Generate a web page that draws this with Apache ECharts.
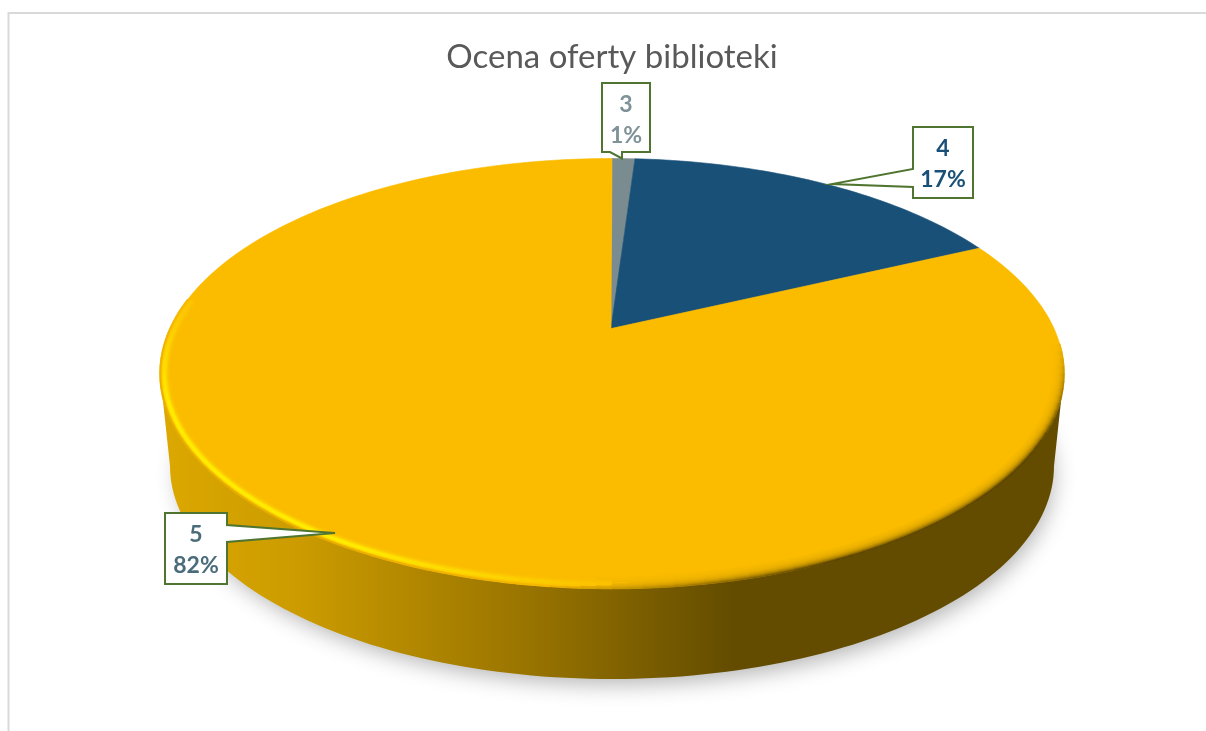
<!DOCTYPE html>
<html><head><meta charset="utf-8">
<style>html,body{margin:0;padding:0;background:#fff}#c{width:1206px;height:731px}</style>
<script src="https://cdn.jsdelivr.net/npm/echarts@6/dist/echarts.min.js"></script>
</head><body><div id="c"></div>
<script>
var chartTitle = 'Ocena oferty biblioteki';
var categories = ['3', '4', '5'];
var values = [1, 17, 82];
var sliceColors = ['#7A8C90', '#195078', '#FBBC00'];
var labelColors = ['#7E9297', '#195078', '#4A6C7A'];

var total = values.reduce(function (s, v) { return s + v; }, 0);
var topE = {cx: 612, cy: 373.5, rx: 452, ry: 215};
var botE = {cx: 612, cy: 466, rx: 442, ry: 213};
var persp = 0.209;

// projected position on the top disc for a clockwise fraction of the circle
function discPoint(frac) {
  var t = frac * 2 * Math.PI, u = Math.sin(t), v = Math.cos(t);
  var d = 1 + persp * v;
  var X = u * Math.sqrt(1 - persp * persp) / d, Y = (v + persp) / d;
  return [topE.cx + topE.rx * X, topE.cy - topE.ry * Y];
}
function ellipseArc(e, a0, a1, n, inset) {
  var pts = [], ins = inset || 0;
  for (var i = 0; i <= n; i++) {
    var a = (a0 + (a1 - a0) * i / n) * Math.PI / 180;
    pts.push([e.cx + (e.rx - ins) * Math.cos(a), e.cy + (e.ry - ins) * Math.sin(a)]);
  }
  return pts;
}
function mix(c1, c2, p) {
  var r = c1.map(function (c, i) { return Math.round(c + (c2[i] - c) * p); });
  return 'rgb(' + r.join(',') + ')';
}
var BASE = [251, 188, 0], DARK = [92, 70, 0], YEL = [255, 238, 0], GOLD = [226, 170, 0];
function clamp(x) { return Math.max(0, Math.min(1, x)); }

function renderBody() {
  var front = ellipseArc(topE, 0, 180, 120);
  var back = ellipseArc(botE, 180, 0, 120);
  var wall = front.concat(back);
  var ground = ellipseArc({cx: botE.cx + 1, cy: botE.cy, rx: botE.rx - 5, ry: botE.ry - 5}, 0, 360, 160);
  return {type: 'group', children: [
    {type: 'polygon', shape: {points: ground}, style: {fill: '#888', shadowBlur: 22, shadowColor: 'rgba(0,0,0,0.3)', shadowOffsetY: 10, shadowOffsetX: 3}},
    {type: 'polygon', shape: {points: wall}, style: {fill: {type: 'linear', x: 160, y: 0, x2: 1064, y2: 0, global: true, colorStops: [
      {offset: 0, color: '#DCA800'}, {offset: 0.155, color: '#CB9B00'}, {offset: 0.40, color: '#9A7500'},
      {offset: 0.635, color: '#634C00'}, {offset: 1, color: '#634C00'}]}}}
  ]};
}
function renderSlice(params, api) {
  var i = params.dataIndex, before = 0;
  for (var k = 0; k < i; k++) before += values[k];
  var share = api.value(0), pts = [discPoint(0)], n = Math.max(4, Math.round(share * 3));
  pts[0] = [topE.cx - 1, topE.cy - topE.ry * persp];
  for (var j = 0; j <= n; j++) pts.push(discPoint((before + share * j / n) / total));
  return {type: 'polygon', shape: {points: pts}, style: {fill: sliceColors[i], stroke: sliceColors[i], lineWidth: 0.6}};
}
function renderRim() {
  var children = [];
  for (var d = 12; d >= 0; d -= 0.75) {
    for (var a = -8; a < 200; a += 2) {
      var yellow = clamp((a - 85) / 40) * clamp((205 - a) / 35);
      var dark = clamp((100 - a) / 40) * clamp((a + 10) / 28);
      var pY = yellow * Math.exp(-Math.pow((d - 4) / 3.2, 2));
      var pG = yellow * Math.exp(-d / 1.1) * 0.8;
      var pD = dark * Math.exp(-d / 3.4);
      var col = pD > pY ? mix(BASE, DARK, pD) : (pG > pY ? mix(BASE, GOLD, pG) : mix(BASE, YEL, pY));
      children.push({type: 'polyline', shape: {points: ellipseArc(topE, a, a + 2.2, 2, d)},
        style: {stroke: col, lineWidth: 1.5, fill: 'none'}});
    }
  }
  return {type: 'group', children: children};
}
var callouts = [
  {box: [602, 83, 48, 69], ptr: [[610, 152], [622, 158.5], [622, 152]]},
  {box: [913, 127, 60, 71], ptr: [[913, 169], [832, 184], [913, 187]]},
  {box: [165, 513, 62, 71], ptr: [[227, 525], [335, 533], [227, 542]]}
];
function renderCallout(params, api) {
  var i = params.dataIndex, c = callouts[i], b = c.box, x0 = b[0], y0 = b[1], x1 = b[0] + b[2], y1 = b[1] + b[3];
  var pts;
  if (i === 0) pts = [[x0, y0], [x1, y0], [x1, y1]].concat(c.ptr.slice().reverse()).concat([[x0, y1]]);
  else if (i === 1) pts = [[x0, y0], [x1, y0], [x1, y1], [x0, y1]].concat(c.ptr.slice().reverse());
  else pts = [[x0, y0], [x1, y0]].concat(c.ptr).concat([[x1, y1], [x0, y1]]);
  var pct = Math.round(api.value(0) / total * 100) + '%';
  var font = 'bold 23px Lato, "Open Sans", sans-serif';
  var tx = (x0 + x1) / 2;
  return {type: 'group', children: [
    {type: 'polygon', shape: {points: pts}, style: {fill: '#fff', stroke: '#4F7530', lineWidth: 2}},
    {type: 'text', style: {text: categories[i], x: tx, y: y0 + 22, align: 'center', verticalAlign: 'middle', font: font, fill: labelColors[i]}},
    {type: 'text', style: {text: pct, x: tx, y: y0 + 53, align: 'center', verticalAlign: 'middle', font: font, fill: labelColors[i]}}
  ]};
}
var chart = echarts.init(document.getElementById('c'), null, {renderer: 'canvas'});
var base = {type: 'custom', coordinateSystem: 'none', silent: true, animation: false};
chart.setOption({
  backgroundColor: '#fff',
  animation: false,
  title: {text: chartTitle, left: 607, top: 36, textAlign: 'center',
    textStyle: {fontFamily: 'Lato', fontWeight: 'normal', fontSize: 33, color: '#595959'}},
  graphic: [{type: 'polyline', silent: true, z: 0, shape: {points: [[8.5, 731], [8.5, 13], [1206, 13]]},
    style: {stroke: '#D9D9D9', lineWidth: 2, fill: 'none'}}],
  series: [
    Object.assign({}, base, {z: 1, data: [0], renderItem: renderBody}),
    Object.assign({}, base, {z: 2, data: values, renderItem: renderSlice}),
    Object.assign({}, base, {z: 3, data: [0], renderItem: renderRim}),
    Object.assign({}, base, {z: 4, data: values, renderItem: renderCallout})
  ]
});
</script></body></html>
